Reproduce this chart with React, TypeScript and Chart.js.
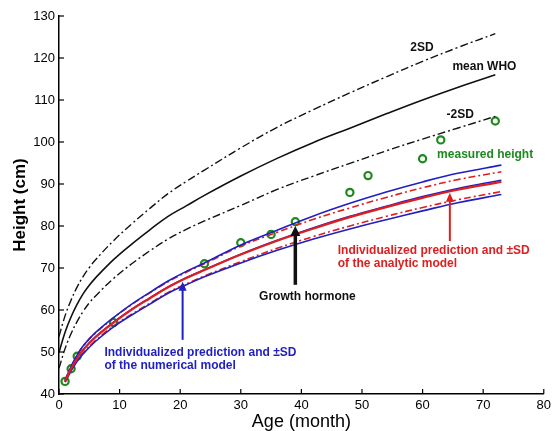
import React, { useEffect, useRef } from "react";
import { Chart, registerables } from "chart.js";

Chart.register(...registerables);

// ---- Data ----
const whoAges = [0, 1, 2, 3, 4, 5, 6, 9, 12, 15, 18, 21, 24, 30, 36, 42, 48, 54, 60, 66, 72];
const whoMean = [49.9, 54.7, 58.4, 61.4, 63.9, 65.9, 67.6, 72.0, 75.7, 79.1, 82.3, 84.8, 87.3, 91.9, 96.1, 99.9, 103.3, 106.7, 110.0, 113.1, 116.0];
const whoPlus2SD = [53.7, 58.6, 62.4, 65.5, 68.0, 70.1, 71.9, 76.5, 80.5, 84.2, 87.7, 90.6, 93.3, 98.6, 103.5, 107.7, 111.7, 115.5, 119.2, 122.6, 125.8];
const whoMinus2SD = [46.1, 50.8, 54.4, 57.3, 59.7, 61.7, 63.3, 67.5, 71.0, 74.1, 76.9, 79.2, 81.2, 84.9, 88.7, 91.9, 94.9, 97.9, 100.7, 103.4, 106.1];

const modelAges = [1, 2, 3, 4, 6, 9, 12, 15, 18, 21, 24, 30, 36, 42, 48, 54, 60, 66, 73];
const numericalMean = [43.0, 46.1, 48.6, 50.6, 53.6, 57.1, 60.2, 62.9, 65.5, 67.7, 69.6, 73.3, 76.6, 79.6, 82.3, 84.7, 87.0, 89.0, 90.9];
const numericalUpper = [43.3, 46.6, 49.3, 51.5, 54.6, 58.2, 61.4, 64.2, 66.9, 69.2, 71.2, 75.5, 79.0, 82.4, 85.4, 88.1, 90.5, 92.6, 94.5];
const numericalLower = [42.8, 45.5, 47.8, 49.6, 52.5, 56.0, 58.8, 61.4, 64.0, 66.0, 67.9, 71.2, 74.2, 76.9, 79.3, 81.5, 83.6, 85.6, 87.5];
const analyticMean = [43.0, 46.0, 48.5, 50.5, 53.5, 57.0, 60.1, 62.8, 65.4, 67.6, 69.5, 73.2, 76.5, 79.4, 82.1, 84.5, 86.7, 88.7, 90.5];
const analyticUpper = [43.2, 46.5, 49.2, 51.4, 54.5, 58.1, 61.3, 64.1, 66.7, 69.0, 71.0, 75.2, 78.5, 81.6, 84.3, 86.8, 89.1, 91.1, 92.9];
const analyticLower = [42.9, 45.7, 48.0, 49.8, 52.7, 56.2, 59.0, 61.6, 64.2, 66.2, 68.1, 71.5, 74.7, 77.5, 80.0, 82.3, 84.4, 86.3, 88.2];

const measuredAges = [1, 2, 3, 9, 24, 30, 35, 39, 48, 51, 60, 63, 72];
const measuredHeights = [43, 46, 49, 57, 71, 76, 78, 81, 88, 92, 96, 100.5, 105];

const xTickValues = [0, 10, 20, 30, 40, 50, 60, 70, 80];
const yTickValues = [40, 50, 60, 70, 80, 90, 100, 110, 120, 130];

const xTitle = "Age (month)";
const yTitle = "Height (cm)";

// annotation texts
const labelTexts = ["2SD", "mean WHO", "-2SD", "measured height", "Individualized prediction and ±SD", "of the analytic model", "Growth hormone", "Individualized prediction and ±SD", "of the numerical model"];
const labelX = [59.9, 70.2, 66.2, 62.4, 46.0, 46.0, 41.0, 7.5, 7.5];
const labelY = [122.4, 117.9, 106.4, 96.9, 74.1, 71.1, 63.2, 49.8, 46.7];
const labelAlign = ["center", "center", "center", "left", "left", "left", "center", "left", "left"];

// arrows: x, from y, to y
const arrowX = [39, 64.5, 20.4];
const arrowFromY = [66.0, 76.4, 52.9];
const arrowToY = [80.0, 87.9, 66.7];

const BLACK = "#111111";
const RED = "#dd1f1f";
const BLUE = "#1f1fc4";
const GREEN = "#1e8a1e";
const FONT = "'Liberation Sans', Arial, Helvetica, sans-serif";

const labelColor = [BLACK, BLACK, BLACK, GREEN, RED, RED, BLACK, BLUE, BLUE];
const arrowColor = [BLACK, RED, BLUE];
const arrowWidth = [3.5, 2, 2];

const toXY = (xs: number[], ys: number[]) => xs.map((x, i) => ({ x, y: ys[i] }));

const decorPlugin = {
  id: "decor",
  afterDatasetsDraw(chart: any) {
    const ctx = chart.ctx;
    const xs = chart.scales.x;
    const ys = chart.scales.y;
    const area = chart.chartArea;
    ctx.save();
    // inward ticks
    ctx.strokeStyle = "#000";
    ctx.lineWidth = 1.2;
    xTickValues.forEach((v) => {
      const px = xs.getPixelForValue(v);
      ctx.beginPath();
      ctx.moveTo(px, area.bottom);
      ctx.lineTo(px, area.bottom - 5);
      ctx.stroke();
    });
    yTickValues.forEach((v) => {
      const py = ys.getPixelForValue(v);
      ctx.beginPath();
      ctx.moveTo(area.left, py);
      ctx.lineTo(area.left + 5, py);
      ctx.stroke();
    });

    // arrows
    arrowX.forEach((ax, i) => {
      const px = xs.getPixelForValue(ax);
      const y0 = ys.getPixelForValue(arrowFromY[i]);
      const y1 = ys.getPixelForValue(arrowToY[i]);
      const hw = i === 0 ? 5 : 4;
      const hh = i === 0 ? 10 : 9;
      ctx.strokeStyle = arrowColor[i];
      ctx.fillStyle = arrowColor[i];
      ctx.lineWidth = arrowWidth[i];
      ctx.beginPath();
      ctx.moveTo(px, y0);
      ctx.lineTo(px, y1 + hh - 1);
      ctx.stroke();
      ctx.beginPath();
      ctx.moveTo(px, y1);
      ctx.lineTo(px - hw, y1 + hh);
      ctx.lineTo(px + hw, y1 + hh);
      ctx.closePath();
      ctx.fill();
    });

    // texts
    ctx.font = `bold 12px ${FONT}`;
    ctx.textBaseline = "middle";
    labelTexts.forEach((t, i) => {
      ctx.fillStyle = labelColor[i];
      ctx.textAlign = labelAlign[i] as CanvasTextAlign;
      ctx.fillText(t, xs.getPixelForValue(labelX[i]), ys.getPixelForValue(labelY[i]));
    });

    // axis titles
    ctx.fillStyle = "#000";
    ctx.textAlign = "center";
    ctx.font = `18px ${FONT}`;
    ctx.fillText(xTitle, (area.left + area.right) / 2, 422);
    ctx.save();
    ctx.translate(20, (area.top + area.bottom) / 2);
    ctx.rotate(-Math.PI / 2);
    ctx.font = `bold 17px ${FONT}`;
    ctx.fillText(yTitle, 0, 0);
    ctx.restore();
    ctx.restore();
  },
};

export default function App() {
  const ref = useRef<HTMLCanvasElement | null>(null);
  useEffect(() => {
    if (!ref.current) return;
    const lineBase = {
      showLine: true,
      pointRadius: 0,
      pointHoverRadius: 0,
      fill: false,
      tension: 0.4,
    };
    const chart = new Chart(ref.current, {
      type: "scatter",
      data: {
        datasets: [
          { ...lineBase, label: "2SD", data: toXY(whoAges, whoPlus2SD), borderColor: BLACK, borderWidth: 1.4, borderDash: [8, 3, 2, 3] },
          { ...lineBase, label: "mean WHO", data: toXY(whoAges, whoMean), borderColor: BLACK, borderWidth: 1.6 },
          { ...lineBase, label: "-2SD", data: toXY(whoAges, whoMinus2SD), borderColor: BLACK, borderWidth: 1.4, borderDash: [8, 3, 2, 3] },
          { ...lineBase, label: "analytic mean", data: toXY(modelAges, analyticMean), borderColor: RED, borderWidth: 2.2 },
          { ...lineBase, label: "numerical upper", data: toXY(modelAges, numericalUpper), borderColor: BLUE, borderWidth: 1.6 },
          { ...lineBase, label: "numerical mean", data: toXY(modelAges, numericalMean), borderColor: BLUE, borderWidth: 1.6 },
          { ...lineBase, label: "numerical lower", data: toXY(modelAges, numericalLower), borderColor: BLUE, borderWidth: 1.6 },
          { ...lineBase, label: "analytic upper", data: toXY(modelAges, analyticUpper), borderColor: RED, borderWidth: 1.6, borderDash: [7, 3, 2, 3] },
          { ...lineBase, label: "analytic lower", data: toXY(modelAges, analyticLower), borderColor: RED, borderWidth: 1.6, borderDash: [7, 3, 2, 3] },
          {
            label: "measured height",
            data: toXY(measuredAges, measuredHeights),
            showLine: false,
            pointRadius: 3.6,
            pointBorderWidth: 2.2,
            pointBorderColor: GREEN,
            pointBackgroundColor: "rgba(255,255,255,0)",
            borderColor: GREEN,
          },
        ],
      },
      options: {
        animation: false,
        responsive: false,
        devicePixelRatio: 1,
        layout: { padding: { top: 16, right: 9, left: 0, bottom: 0 } },
        plugins: { legend: { display: false }, tooltip: { enabled: false }, title: { display: false } },
        scales: {
          x: {
            type: "linear",
            min: 0,
            max: 80,
            afterBuildTicks: (s: any) => { s.ticks = xTickValues.map((v) => ({ value: v })); },
            afterFit: (s: any) => { s.height = 37; },
            grid: { display: false, drawTicks: false },
            border: { display: true, color: "#000", width: 1.5 },
            ticks: { color: "#000", padding: 4, font: { family: FONT, size: 13 }, maxRotation: 0 },
          },
          y: {
            type: "linear",
            min: 40,
            max: 130,
            afterBuildTicks: (s: any) => { s.ticks = yTickValues.map((v) => ({ value: v })); },
            afterFit: (s: any) => { s.width = 59; },
            grid: { display: false, drawTicks: false },
            border: { display: true, color: "#000", width: 1.5 },
            ticks: { color: "#000", padding: 4, font: { family: FONT, size: 13 } },
          },
        },
      },
      plugins: [decorPlugin],
    } as any);
    return () => chart.destroy();
  }, []);
  return (
    <div style={{ position: "fixed", left: 0, top: 0, width: 555, height: 431, background: "#fff" }}>
      <canvas ref={ref} width={555} height={431} style={{ display: "block", width: 555, height: 431 }} />
    </div>
  );
}
